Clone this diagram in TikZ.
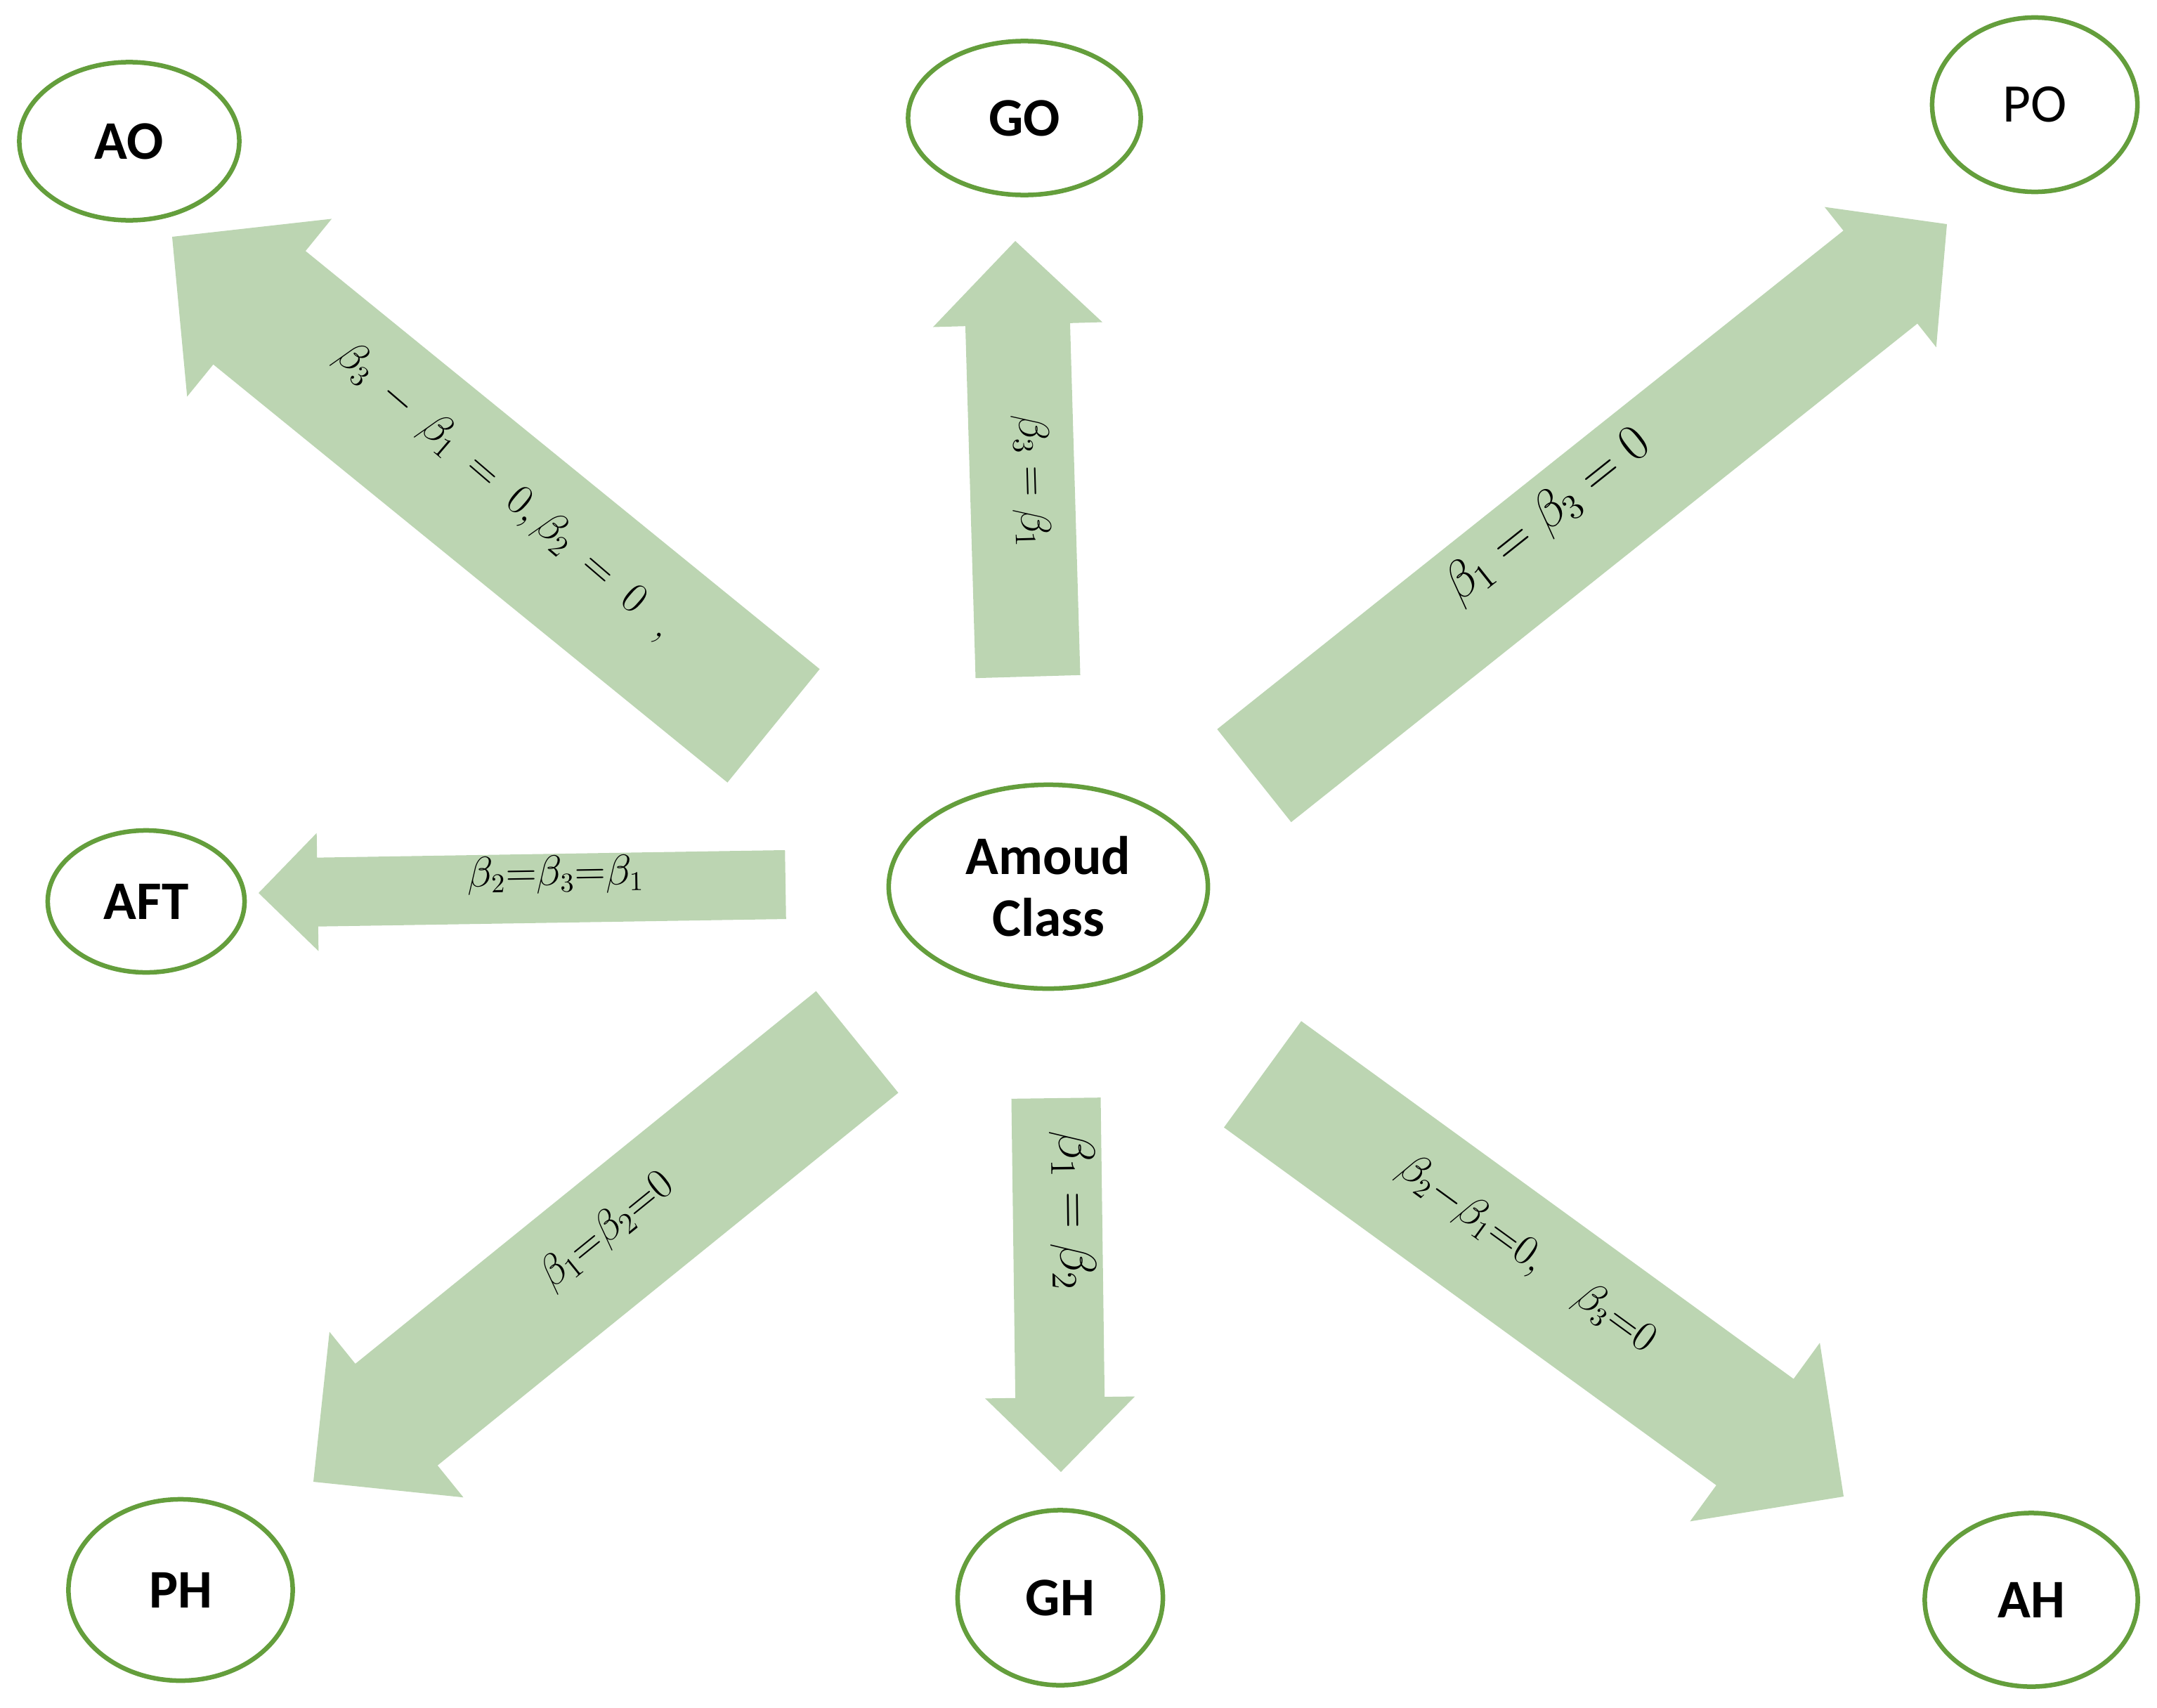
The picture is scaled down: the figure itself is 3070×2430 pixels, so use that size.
\documentclass[tikz,border=0pt]{standalone}
\usepackage{fontspec}
\newfontfamily\nodefont{Carlito}
\usetikzlibrary{calc,shapes.geometric}
\definecolor{ringgreen}{RGB}{100,158,60}
\definecolor{arrowgreen}{RGB}{188,213,178}
\tikzset{
  state/.style={ellipse, draw=ringgreen, line width=0.065cm, fill=white, inner sep=0pt,
    font=\nodefont\bfseries\fontsize{22}{25}\selectfont, align=center},
  cond/.style={inner sep=0pt},
}
\newcommand{\blockarrow}[5]{% tail, tip, half shaft width, half head width, head length
  \coordinate (#1-#2-b) at ($(#2)!#5!(#1)$);
  \fill[arrowgreen] ($(#1)!#3!90:(#2)$) -- ($(#1-#2-b)!#3!90:(#2)$) -- ($(#1-#2-b)!#4!90:(#2)$)
    -- (#2) -- ($(#1-#2-b)!#4!-90:(#2)$) -- ($(#1-#2-b)!#3!-90:(#2)$) -- ($(#1)!#3!-90:(#2)$) -- cycle;
}
\begin{document}
\begin{tikzpicture}[x=0.01cm,y=-0.01cm]
\useasboundingbox (0,0) rectangle (3070,2430);

% arrow ends
\coordinate (aoS) at (1101,1033); \coordinate (aoE) at (245,337);
\coordinate (goS) at (1463,963);  \coordinate (goE) at (1445,343);
\coordinate (poS) at (1785,1104); \coordinate (poE) at (2771,319);
\coordinate (afS) at (1118,1259); \coordinate (afE) at (368,1271);
\coordinate (phS) at (1220,1483); \coordinate (phE) at (446,2109);
\coordinate (ghS) at (1503,1563); \coordinate (ghE) at (1510,2095);
\coordinate (ahS) at (1797,1529); \coordinate (ahE) at (2624,2130);

\blockarrow{aoS}{aoE}{1.04cm}{1.63cm}{1.60cm}
\blockarrow{goS}{goE}{0.745cm}{1.205cm}{1.19cm}
\blockarrow{poS}{poE}{0.845cm}{1.275cm}{1.21cm}
\blockarrow{afS}{afE}{0.49cm}{0.84cm}{0.84cm}
\blockarrow{phS}{phE}{0.93cm}{1.515cm}{1.52cm}
\blockarrow{ghS}{ghE}{0.635cm}{1.065cm}{1.06cm}
\blockarrow{ahS}{ahE}{0.935cm}{1.57cm}{1.56cm}

% states
\node[state, minimum width=3.13cm, minimum height=2.25cm] (AO) at (184,201) {AO};
\node[state, minimum width=3.31cm, minimum height=2.19cm] (GO) at (1458,168) {GO};
\node[state, minimum width=2.92cm, minimum height=2.48cm, font=\nodefont\fontsize{22}{25}\selectfont] (PO) at (2896,149) {PO};
\node[state, minimum width=2.80cm, minimum height=2.02cm] (AFT) at (208,1283) {AFT};
\node[state, minimum width=4.54cm, minimum height=2.90cm] (AC) at (1492,1262) {Amoud\\Class};
\node[state, minimum width=3.19cm, minimum height=2.58cm] (PH) at (257,2263) {PH};
\node[state, minimum width=2.92cm, minimum height=2.49cm] (GH) at (1509,2274) {GH};
\node[state, minimum width=3.03cm, minimum height=2.47cm] (AH) at (2891,2277) {AH};

% conditions
\node[cond, rotate=-40.6, font=\fontsize{18}{20}\selectfont] (lao) at (719,699)
  {$\beta_3\:-\:\beta_1\:=\:0,\beta_2\:=\:0$\ \ ,};
\node[cond, rotate=-88.4, font=\fontsize{18}{20}\selectfont] (lgo) at (1468,685) {$\beta_3=\beta_1$};
\node[cond, rotate=38.5, font=\fontsize{21}{24}\selectfont] (lpo) at (2203,734) {$\beta_1=\beta_3=0$};
\node[cond, rotate=0.9, font=\fontsize{16}{18}\selectfont] (laf) at (791,1245) {$\beta_2{=}\beta_3{=}\beta_1$};
\node[cond, rotate=39, font=\fontsize{17}{19}\selectfont] (lph) at (864,1752) {$\beta_1{=}\beta_2{=}0$};
\node[cond, rotate=-89.3, font=\fontsize{21}{24}\selectfont] (lgh) at (1527,1723) {$\beta_1=\beta_2$};
\node[cond, rotate=-36, font=\fontsize{16}{18}\selectfont] (lah) at (2173,1786) {$\beta_2{-}\beta_1{=}0,\quad\beta_3{=}0$};
\end{tikzpicture}
\end{document}
